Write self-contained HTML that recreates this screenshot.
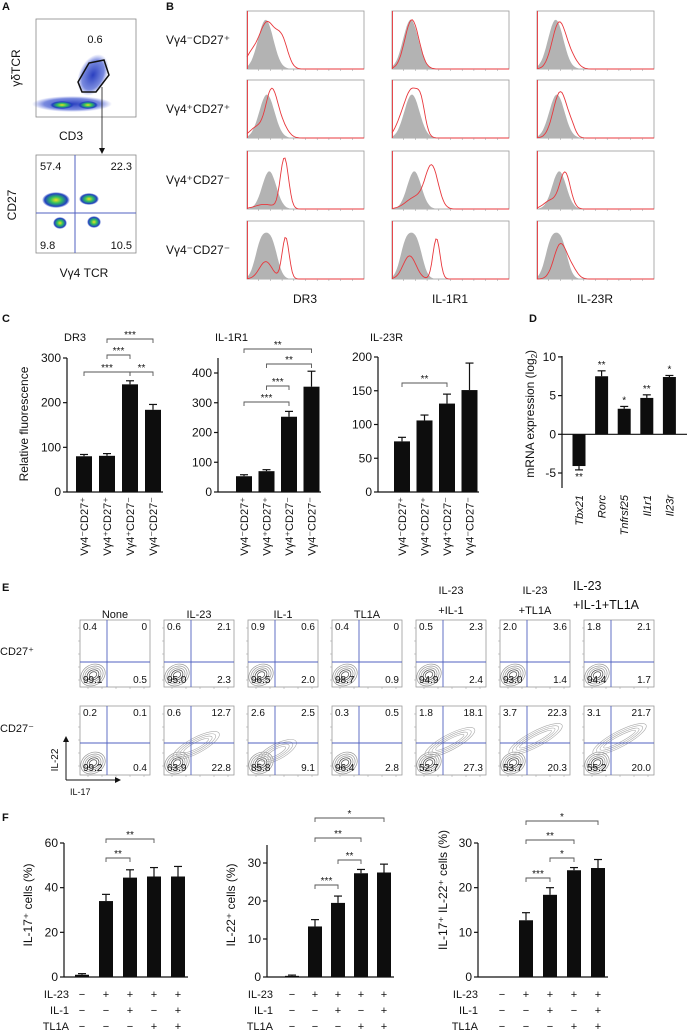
<!DOCTYPE html>
<html><head><meta charset="utf-8"><style>
body{margin:0;background:#fff}
svg{display:block;font-family:"Liberation Sans",Arial,sans-serif}
</style></head><body>
<svg id="fig" width="687" height="1036" viewBox="0 0 687 1036" xmlns="http://www.w3.org/2000/svg">
<defs>
<radialGradient id="hot" cx="50%" cy="50%" r="50%"><stop offset="0" stop-color="#f0e020"/><stop offset="0.4" stop-color="#30c060"/><stop offset="0.8" stop-color="#2040c0"/><stop offset="1" stop-color="#2040c0" stop-opacity="0"/></radialGradient>
<radialGradient id="blu" cx="50%" cy="50%" r="50%"><stop offset="0" stop-color="#2a3fbf"/><stop offset="0.7" stop-color="#4058d0" stop-opacity="0.7"/><stop offset="1" stop-color="#6070e0" stop-opacity="0"/></radialGradient>
</defs>
<g id="root"></g>
</svg>
<script>
// ---- Panel C data ----
const cCats=["Vγ4⁻CD27⁺","Vγ4⁺CD27⁺","Vγ4⁺CD27⁻","Vγ4⁻CD27⁻"];
const dr3Vals=[80,81,241,184];
const dr3Err=[4,5,8,12];
const il1Vals=[53,70,253,354];
const il1Err=[5,5,18,52];
const il23Vals=[75,106,131,151];
const il23Err=[6,8,14,40];
// ---- Panel D data ----
const dCats=["Tbx21","Rorc","Tnfrsf25","Il1r1","Il23r"];
const dVals=[-4.1,7.5,3.3,4.7,7.4];
const dErr=[0.5,0.7,0.3,0.4,0.2];
const dStars=["**","**","*","**","*"];
// ---- Panel F data ----
const f1Vals=[1,34,44.5,45,45];
const f1Err=[0.5,3,3.5,4,4.5];
const f2Vals=[0.3,13.3,19.5,27.3,27.5];
const f2Err=[0.2,1.8,1.8,1,2.2];
const f3Vals=[0.1,12.7,18.4,23.9,24.4];
const f3Err=[0,1.7,1.6,0.6,1.9];
const il23Row=["−","+","+","+","+"];
const il1Row=["−","−","+","−","+"];
const tl1aRow=["−","−","−","+","+"];
// ---- Panel E data ----
const eTitles=[["None"],["IL-23"],["IL-1"],["TL1A"],["IL-23","+IL-1"],["IL-23","+TL1A"],["IL-23","+IL-1+TL1A"]];
const eRow1=[["0.4","0","99.1","0.5"],["0.6","2.1","95.0","2.3"],["0.9","0.6","96.5","2.0"],["0.4","0","98.7","0.9"],["0.5","2.3","94.9","2.4"],["2.0","3.6","93.0","1.4"],["1.8","2.1","94.4","1.7"]];
const eRow2=[["0.2","0.1","99.2","0.4"],["0.6","12.7","63.9","22.8"],["2.6","2.5","85.8","9.1"],["0.3","0.5","96.4","2.8"],["1.8","18.1","52.7","27.3"],["3.7","22.3","53.7","20.3"],["3.1","21.7","55.2","20.0"]];
// ---- Panel B histogram peaks [center,width,height] ----
const grayPeaks=[[[0.16,0.065,0.85]],[[0.17,0.065,0.75]],[[0.19,0.06,0.65]],[[0.12,0.05,0.6],[0.21,0.05,0.6]]];
const redPeaks=[
 [[[0.17,0.07,0.8],[0.3,0.05,0.45],[0.03,0.05,0.2]],[[0.17,0.06,0.85]],[[0.19,0.06,0.8],[0.3,0.05,0.15]]],
 [[[0.21,0.05,0.8],[0.08,0.06,0.18],[0.3,0.05,0.2]],[[0.17,0.06,0.8],[0.25,0.035,0.4],[0.07,0.05,0.2]],[[0.2,0.06,0.8],[0.3,0.03,0.1]]],
 [[[0.32,0.035,0.88],[0.15,0.08,0.08]],[[0.34,0.055,0.72],[0.2,0.08,0.2]],[[0.24,0.045,0.62],[0.12,0.06,0.15]]],
 [[[0.33,0.03,0.72],[0.16,0.055,0.3]],[[0.38,0.03,0.7],[0.15,0.055,0.4]],[[0.2,0.055,0.6],[0.3,0.045,0.15]]]];
const bRowLabels=["Vγ4⁻CD27⁺","Vγ4⁺CD27⁺","Vγ4⁺CD27⁻","Vγ4⁻CD27⁻"];
const bColLabels=["DR3","IL-1R1","IL-23R"];

const NS="http://www.w3.org/2000/svg";
const root=document.getElementById('root');
function mk(tag,attrs,parent,txt){const e=document.createElementNS(NS,tag);for(const k in attrs)e.setAttribute(k,attrs[k]);if(txt!==undefined)e.textContent=txt;(parent||root).appendChild(e);return e;}
function txt(x,y,s,size,anchor,name,extra){const e=mk('text',Object.assign({x:x,y:y,'font-size':size,'text-anchor':anchor||'start',fill:'#111'},extra||{}),root,s);


return e;}

[["A",2,10],["B",166,10],["C",2,322],["D",529,322],["E",2,591],["F",2,821]].forEach(p=>{txt(p[1],p[2],p[0],11,'start','panel-letter',{'font-weight':'bold'});});

// ---- Panel A ----
mk('rect',{x:36,y:19,width:100,height:98,fill:'none',stroke:'#888','stroke-width':0.8});
mk('ellipse',{cx:72,cy:104,rx:40,ry:8,fill:'url(#blu)'});
mk('ellipse',{cx:93,cy:75,rx:14,ry:22,fill:'url(#blu)',transform:'rotate(25 93 75)'});
mk('ellipse',{cx:62,cy:105,rx:12,ry:4,fill:'url(#hot)'});
mk('ellipse',{cx:88,cy:105,rx:10,ry:4,fill:'url(#hot)'});
mk('polygon',{points:'78,82 89,63 104,60 109,75 96,92 82,92',fill:'none',stroke:'#111','stroke-width':1.5});
txt(95,43,"0.6",11,'middle','gate-percent');
txt(0,0,"γδTCR",12,'middle','y-axis-title-gdtcr',{transform:'translate(20,68) rotate(-90)'});
txt(71,140,"CD3",12,'middle','x-axis-title-cd3');
mk('line',{x1:102,y1:87,x2:102,y2:150,stroke:'#111','stroke-width':0.8});
mk('polygon',{points:'99,148 105,148 102,154',fill:'#111'});
mk('rect',{x:36,y:155,width:100,height:98,fill:'none',stroke:'#888','stroke-width':0.8});
[[56,200,14,8],[89,199,10,6],[60,223,7,6],[94,222,7,6]].forEach(c=>{mk('ellipse',{cx:c[0],cy:c[1],rx:c[2],ry:c[3],fill:'url(#hot)'});});
mk('line',{x1:75,y1:155,x2:75,y2:253,stroke:'#5060c0','stroke-width':1});
mk('line',{x1:36,y1:213,x2:136,y2:213,stroke:'#5060c0','stroke-width':1});
txt(40,170,"57.4",11,'start','quadrant-ul');txt(132,170,"22.3",11,'end','quadrant-ur');
txt(40,249,"9.8",11,'start','quadrant-ll');txt(132,249,"10.5",11,'end','quadrant-lr');
txt(0,0,"CD27",12,'middle','y-axis-title-cd27',{transform:'translate(16,205) rotate(-90)'});
txt(84,277,"Vγ4 TCR",12,'middle','x-axis-title-vg4');

// ---- Panel B ----
const bColX=[247,392,537], bRowY=[11,80,151,221], bW=117, bH=58;
function curve(peaks,x0,y0){let d='';for(let i=0;i<=80;i++){const f=i/80;let v=0;peaks.forEach(p=>{v+=p[2]*Math.exp(-0.5*Math.pow((f-p[0])/p[1],2));});v=Math.min(v,0.98);d+=(i?'L':'M')+(x0+f*bW).toFixed(1)+','+(y0+bH-v*bH).toFixed(1);}return d;}
for(let r=0;r<4;r++){
  txt(166,bRowY[r]+33,bRowLabels[r],12,'start','row-label');
  for(let c=0;c<3;c++){
    const x0=bColX[c],y0=bRowY[r];
    const g=mk('g',{});
    
    
    mk('rect',{x:x0,y:y0,width:bW,height:bH,fill:'#fff',stroke:'#999','stroke-width':0.8},g);
    const gp=curve(grayPeaks[r],x0,y0);
    mk('path',{d:gp+'L'+(x0+bW)+','+(y0+bH)+'L'+x0+','+(y0+bH)+'Z',fill:'#b3b3b3'},g);
    mk('path',{d:curve(redPeaks[r][c],x0,y0),fill:'none',stroke:'#e8383d','stroke-width':0.9},g);
    mk('line',{x1:x0+0.5,y1:y0,x2:x0+0.5,y2:y0+bH,stroke:'#e8383d','stroke-width':0.9},g);
    for(let k=1;k<10;k++)mk('line',{x1:x0+k*bW/10,y1:y0+bH,x2:x0+k*bW/10,y2:y0+bH+2,stroke:'#999','stroke-width':0.5},g);
  }
}
bColLabels.forEach((s,i)=>txt(bColX[i]+58,303,s,12,'middle','x-axis-title'));

// ---- bar chart helper ----
function barChart(o){
  const sy=v=>o.y0-(v-o.min)*o.ppu;
  const zeroY=sy(0);
  mk('line',{x1:o.ax,y1:o.top,x2:o.ax,y2:o.bottom!==undefined?o.bottom:o.y0,stroke:'#111','stroke-width':1.2});
  o.ticks.forEach(t=>{mk('line',{x1:o.ax-4,y1:sy(t),x2:o.ax,y2:sy(t),stroke:'#111','stroke-width':1.2});
    txt(o.ax-6,sy(t)+4,String(t),o.tickSize||12,'end','y-tick-label');});
  mk('line',{x1:o.ax,y1:zeroY,x2:o.xEnd,y2:zeroY,stroke:'#111','stroke-width':1.2});
  o.vals.forEach((v,i)=>{
    const cx=o.c0+i*o.step, y=sy(v);
    const b=mk('rect',{x:cx-o.bw/2,y:Math.min(y,zeroY),width:o.bw,height:Math.abs(zeroY-y),fill:'#0d0d0d'});
    
    
    if(o.err[i]>0){const ye=v>=0?sy(v+o.err[i]):sy(v-o.err[i]);
      mk('line',{x1:cx,y1:y,x2:cx,y2:ye,stroke:'#111','stroke-width':1.2});
      mk('line',{x1:cx-4,y1:ye,x2:cx+4,y2:ye,stroke:'#111','stroke-width':1.2});}
  });
  (o.sig||[]).forEach(s=>{const xa=o.c0+s[0]*o.step,xb=o.c0+s[1]*o.step,y=s[2];
    mk('path',{d:`M${xa},${y+4}V${y}H${xb}V${y+4}`,fill:'none',stroke:'#555','stroke-width':0.9});
    txt((xa+xb)/2,y-1,s[3],10,'middle','significance-stars');});
  return sy;
}
// ---- Panel C ----
barChart({ax:67,y0:492,min:0,ppu:134/300,top:358,ticks:[0,100,200,300],xEnd:163,vals:dr3Vals,err:dr3Err,c0:84,step:23,bw:16,
 sig:[[0,2,372,"***"],[1,2,355,"***"],[1,3,339,"***"],[2,3,372,"**"]]});
barChart({ax:218,y0:492,min:0,ppu:119/400,top:358,ticks:[0,100,200,300,400],xEnd:321,vals:il1Vals,err:il1Err,c0:244,step:22.5,bw:16,
 sig:[[0,2,402,"***"],[1,2,386,"***"],[1,3,364,"**"],[0,3,349,"**"]]});
barChart({ax:378,y0:492,min:0,ppu:135/200,top:357,ticks:[0,50,100,150,200],xEnd:479,vals:il23Vals,err:il23Err,c0:402,step:22.5,bw:16,
 sig:[[0,2,383,"**"]]});
txt(64,341,"DR3",11,'start','chart-title');txt(215,341,"IL-1R1",11,'start','chart-title');txt(370,341,"IL-23R",11,'start','chart-title');
txt(0,0,"Relative fluorescence",12,'middle','y-axis-title',{transform:'translate(28,424) rotate(-90)'});
[[84,23],[244,22.5],[402,22.5]].forEach(p=>cCats.forEach((s,i)=>txt(0,0,s,11,'end','category-label',{transform:`translate(${p[0]+i*p[1]+4},497) rotate(-90)`})));
// ---- Panel D ----
const dsy=barChart({ax:562,y0:473,min:-5,ppu:38.7/5,top:356,bottom:488,ticks:[-5,0,5,10],xEnd:687,vals:dVals,err:dErr,c0:579,step:22.6,bw:13});
dVals.forEach((v,i)=>{const cx=579+i*22.6;const y=v>=0?dsy(v+dErr[i])-3:dsy(v-dErr[i])+10;txt(cx,y,dStars[i],10,'middle','significance-stars');});
dCats.forEach((s,i)=>txt(0,0,s,11,'end','gene-label',{transform:`translate(${579+i*22.6+4},495) rotate(-90)`,'font-style':'italic'}));
txt(0,0,"mRNA expression (log",12,'middle','y-axis-title',{transform:'translate(534,418) rotate(-90)'});
txt(0,0,"2",8,'middle','y-axis-subscript',{transform:'translate(537,356) rotate(-90)'});
txt(0,0,")",12,'middle','y-axis-paren',{transform:'translate(534,352) rotate(-90)'});

// ---- Panel E ----
const eX=[80,164,248,332,416,500,584], eW=70;
eTitles.forEach((t,i)=>{const cx=eX[i]+35;
  if(t.length===1)txt(cx,618,t[0],11,'middle','condition-title');
  else if(i<6){txt(cx,594,t[0],11,'middle','condition-title');txt(cx,614,t[1],11,'middle','condition-title');}
  else{txt(573,590,t[0],12.5,'start','condition-title');txt(573,609,t[1],12.5,'start','condition-title');}
});
function ePlot(x0,y0,h,nums,hy,spread){
  const g=mk('g',{});
  
  
  mk('rect',{x:x0,y:y0,width:eW,height:h,fill:'#fff',stroke:'#999','stroke-width':0.8},g);
  const cx=x0+13,cy=y0+h-12;
  for(let k=0;k<5;k++)mk('ellipse',{cx:cx,cy:cy,rx:4+k*2.2,ry:3+k*1.8,fill:'none',stroke:k<2?'#444':'#999','stroke-width':0.7,transform:`rotate(-30 ${cx} ${cy})`},g);
  if(spread>0){for(let k=0;k<4;k++)mk('ellipse',{cx:cx+14+spread*6,cy:cy-8-spread*4,rx:8+k*4+spread*4,ry:3+k*1.6,fill:'none',stroke:'#aaa','stroke-width':0.6,transform:`rotate(-28 ${cx+14} ${cy-8})`},g);}
  mk('line',{x1:x0+27,y1:y0,x2:x0+27,y2:y0+h,stroke:'#5060c0','stroke-width':0.9},g);
  mk('line',{x1:x0,y1:y0+hy,x2:x0+eW,y2:y0+hy,stroke:'#5060c0','stroke-width':0.9},g);
  txt(x0+3,y0+10,nums[0],10,'start','quadrant-value');txt(x0+eW-3,y0+10,nums[1],10,'end','quadrant-value');
  txt(x0+3,y0+h-4,nums[2],10,'start','quadrant-value');txt(x0+eW-3,y0+h-4,nums[3],10,'end','quadrant-value');
  for(let k=0;k<5;k++){mk('line',{x1:x0+8+k*14,y1:y0+h,x2:x0+8+k*14,y2:y0+h+2,stroke:'#999','stroke-width':0.5},g);mk('line',{x1:x0-2,y1:y0+8+k*13,x2:x0,y2:y0+8+k*13,stroke:'#999','stroke-width':0.5},g);}
}
const spreads=[0,1.5,0.5,0,2,2.5,2.5];
eX.forEach((x,i)=>{ePlot(x,620,67,eRow1[i],42,0);ePlot(x,706,69,eRow2[i],37,spreads[i]);});
txt(0,655,"CD27⁺",11,'start','row-label');txt(0,732,"CD27⁻",11,'start','row-label');
mk('line',{x1:66,y1:780,x2:66,y2:741,stroke:'#111','stroke-width':1});mk('polygon',{points:'63,742 69,742 66,736',fill:'#111'});
mk('line',{x1:66,y1:780,x2:116,y2:780,stroke:'#111','stroke-width':1});mk('polygon',{points:'115,777 115,783 121,780',fill:'#111'});
txt(0,0,"IL-22",10,'middle','y-axis-title-il22',{transform:'translate(58,760) rotate(-90)'});
txt(70,795,"IL-17",9,'start','x-axis-title-il17');

// ---- Panel F ----
function fTable(labX,c0,step){
  [[il23Row,"IL-23",998],[il1Row,"IL-1",1014],[tl1aRow,"TL1A",1030]].forEach(r=>{
    txt(labX,r[2],r[1],11,'end','condition-row-label');
    r[0].forEach((s,i)=>txt(c0+i*step,r[2],s,11,'middle','condition-sign'));});
}
barChart({ax:64,y0:977,min:0,ppu:134/60,top:843,ticks:[0,20,40,60],xEnd:188,vals:f1Vals,err:f1Err,c0:82,step:24,bw:14,
 sig:[[1,2,858,"**"],[1,3,839,"**"]]});
barChart({ax:267,y0:977,min:0,ppu:114/30,top:845,ticks:[0,10,20,30],xEnd:394,vals:f2Vals,err:f2Err,c0:292,step:23,bw:14,
 sig:[[1,2,885,"***"],[2,3,860,"**"],[1,3,838,"**"],[1,4,818,"*"]]});
barChart({ax:478,y0:977,min:0,ppu:134/30,top:843,ticks:[0,10,20,30],xEnd:608,vals:f3Vals,err:f3Err,c0:502,step:24,bw:14,
 sig:[[1,2,878,"***"],[2,3,858,"*"],[1,3,840,"**"],[1,4,821,"*"]]});
fTable(69,82,24);fTable(273,292,23);fTable(478,502,24);
txt(0,0,"IL-17⁺ cells (%)",12,'middle','y-axis-title',{transform:'translate(32,905) rotate(-90)'});
txt(0,0,"IL-22⁺ cells (%)",12,'middle','y-axis-title',{transform:'translate(235,905) rotate(-90)'});
txt(0,0,"IL-17⁺ IL-22⁺ cells (%)",12,'middle','y-axis-title',{transform:'translate(447,890) rotate(-90)'});
</script>
</body></html>
